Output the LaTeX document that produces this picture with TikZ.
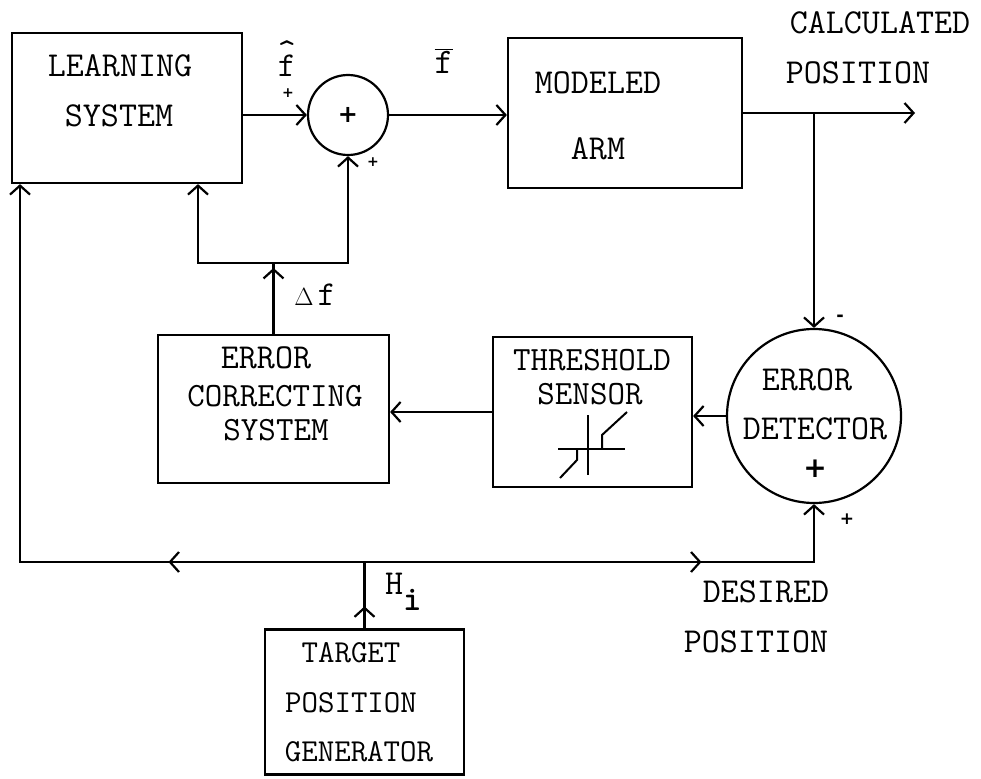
\documentclass[tikz,border=0pt]{standalone}
\usepackage{fontspec}
\newfontfamily\djsans{DejaVu Sans}
\usetikzlibrary{arrows.meta,decorations.markings,calc}
\begin{document}
\begin{tikzpicture}[x=1pt,y=-1pt,
  lw/.style={line width=2.2pt},
  >={Straight Barb[length=9pt,width=20pt]},
  blk/.style={draw, line width=2.2pt, rectangle, inner sep=0pt},
  sumc/.style={draw, line width=2.2pt, circle, inner sep=0pt},
  txt/.style={font=\ttfamily\fontsize{35}{38}\selectfont, inner sep=0pt, anchor=center},
  stxt/.style={font=\ttfamily\fontsize{32}{36}\selectfont, inner sep=0pt, anchor=center},
  sgn/.style={font=\djsans\bfseries\fontsize{#1}{#1}\selectfont, inner sep=0pt},
  tipat/.style={postaction={decorate, decoration={markings, mark=at position #1 with {\arrow[line width=2.2pt]{>}}}}}
]
\useasboundingbox (0,0) rectangle (981,778);

% blocks
\node[blk, minimum width=230pt, minimum height=150pt] (ls) at (127,108) {};
\node[sumc, minimum size=80pt] (sum) at (348,115) {};
\node[blk, minimum width=234pt, minimum height=150pt] (arm) at (625,113) {};
\node[blk, minimum width=231pt, minimum height=148pt] (ec) at (273.5,409) {};
\node[blk, minimum width=199pt, minimum height=150pt] (ts) at (592.5,412) {};
\node[sumc, minimum size=174pt] (ed) at (814,416) {};
\node[blk, minimum width=199pt, minimum height=145pt] (tpg) at (364.5,702) {};

% texts
\node[txt] (ls1) at (120,66) {LEARNING};
\node[txt] (ls2) at (119,116) {SYSTEM};
\node[txt] (arm1) at (598,83) {MODELED};
\node[txt] (arm2) at (598,149) {ARM};
\node[txt] (ec1) at (266,358) {ERROR};
\node[txt, font=\ttfamily\fontsize{34}{36}\selectfont] (ec2) at (275,396) {CORRECTING};
\node[txt, font=\ttfamily\fontsize{34}{36}\selectfont] (ec3) at (276,430) {SYSTEM};
\node[txt, font=\ttfamily\fontsize{34}{36}\selectfont] (ts1) at (592,360) {THRESHOLD};
\node[txt, font=\ttfamily\fontsize{34}{36}\selectfont] (ts2) at (590,394) {SENSOR};
\node[txt] (ed1) at (807,380) {ERROR};
\node[txt] (ed2) at (815,429) {DETECTOR};
\node[sgn=28] (ed3) at (815,469) {+};
\node[stxt] (tp1) at (351,653) {TARGET};
\node[stxt] (tp2) at (351,703) {POSITION};
\node[stxt] (tp3) at (359,752) {GENERATOR};
\node[txt] (cp1) at (880,23) {CALCULATED};
\node[txt] (cp2) at (858,73) {POSITION};
\node[txt] (dp1) at (766,592) {DESIRED};
\node[txt] (dp2) at (756,642) {POSITION};

% signal labels
\node[txt, anchor=base] (fhat) at (287,77) {\rlap{\raisebox{14pt}{\textasciicircum}}f};
\node[inner sep=0pt] (fbar) at (444,61) {\fontsize{36}{40}\selectfont$\overline{\mathtt{f}}$};
\node[sgn=24] (sum1) at (348,115) {+};
\node[sgn=14] (p1) at (288,93) {+};
\node[sgn=14] (p2) at (373,162) {+};
\node[sgn=18] (m1) at (840,318) {-};
\node[sgn=17] (p3) at (847,519) {+};
\node[inner sep=0pt] (df) at (315,295) {\fontsize{24}{24}\selectfont$\Delta$\hspace{4pt}\ttfamily\fontsize{35}{38}\selectfont f};
\node[txt, anchor=west] (hi) at (385,592) {H\raisebox{-16pt}{\bfseries i}};

% threshold symbol
\draw[line width=2pt] (588,415) -- (588,475);
\draw[line width=2pt] (558,449) -- (625,449);
\draw[line width=2pt] (602,449) -- (602,435) -- (627,412);
\draw[line width=2pt] (577,449) -- (577,460) -- (560,478);

% connectors
\coordinate (out) at (915,113);
\coordinate (j) at (273.5,263);
\coordinate (jl) at (198,263);
\coordinate (bus) at (364.5,562);
\coordinate (bl) at (20,562);

\draw[lw,->] (sum.west -| ls.east) -- (sum.west);
\draw[lw,->] (sum.east) -- (sum.east -| arm.west);
\draw[lw,->] (arm.east) -- (out);
\draw[lw,->] (arm.east -| ed.north) -- (ed.north);
\draw[lw,->] (ed.west) -- (ed.west -| ts.east);
\draw[lw,->] (ts.west) -- (ts.west -| ec.east);
\draw[lw,tipat=0.93] (ec.north) -- (j);
\draw[lw,->] (j) -- (jl) -- (jl |- ls.south);
\draw[lw,->] (j) -- (j -| sum.south) -- (sum.south);
\draw[lw,tipat=22pt] (tpg.north) -- (bus);
\draw[lw,->,tipat=196pt] (bus) -- (bl) -- (bl |- ls.south);
\draw[lw,->,tipat=337pt] (bus) -- (bus -| ed.south) -- (ed.south);
\end{tikzpicture}
\end{document}
